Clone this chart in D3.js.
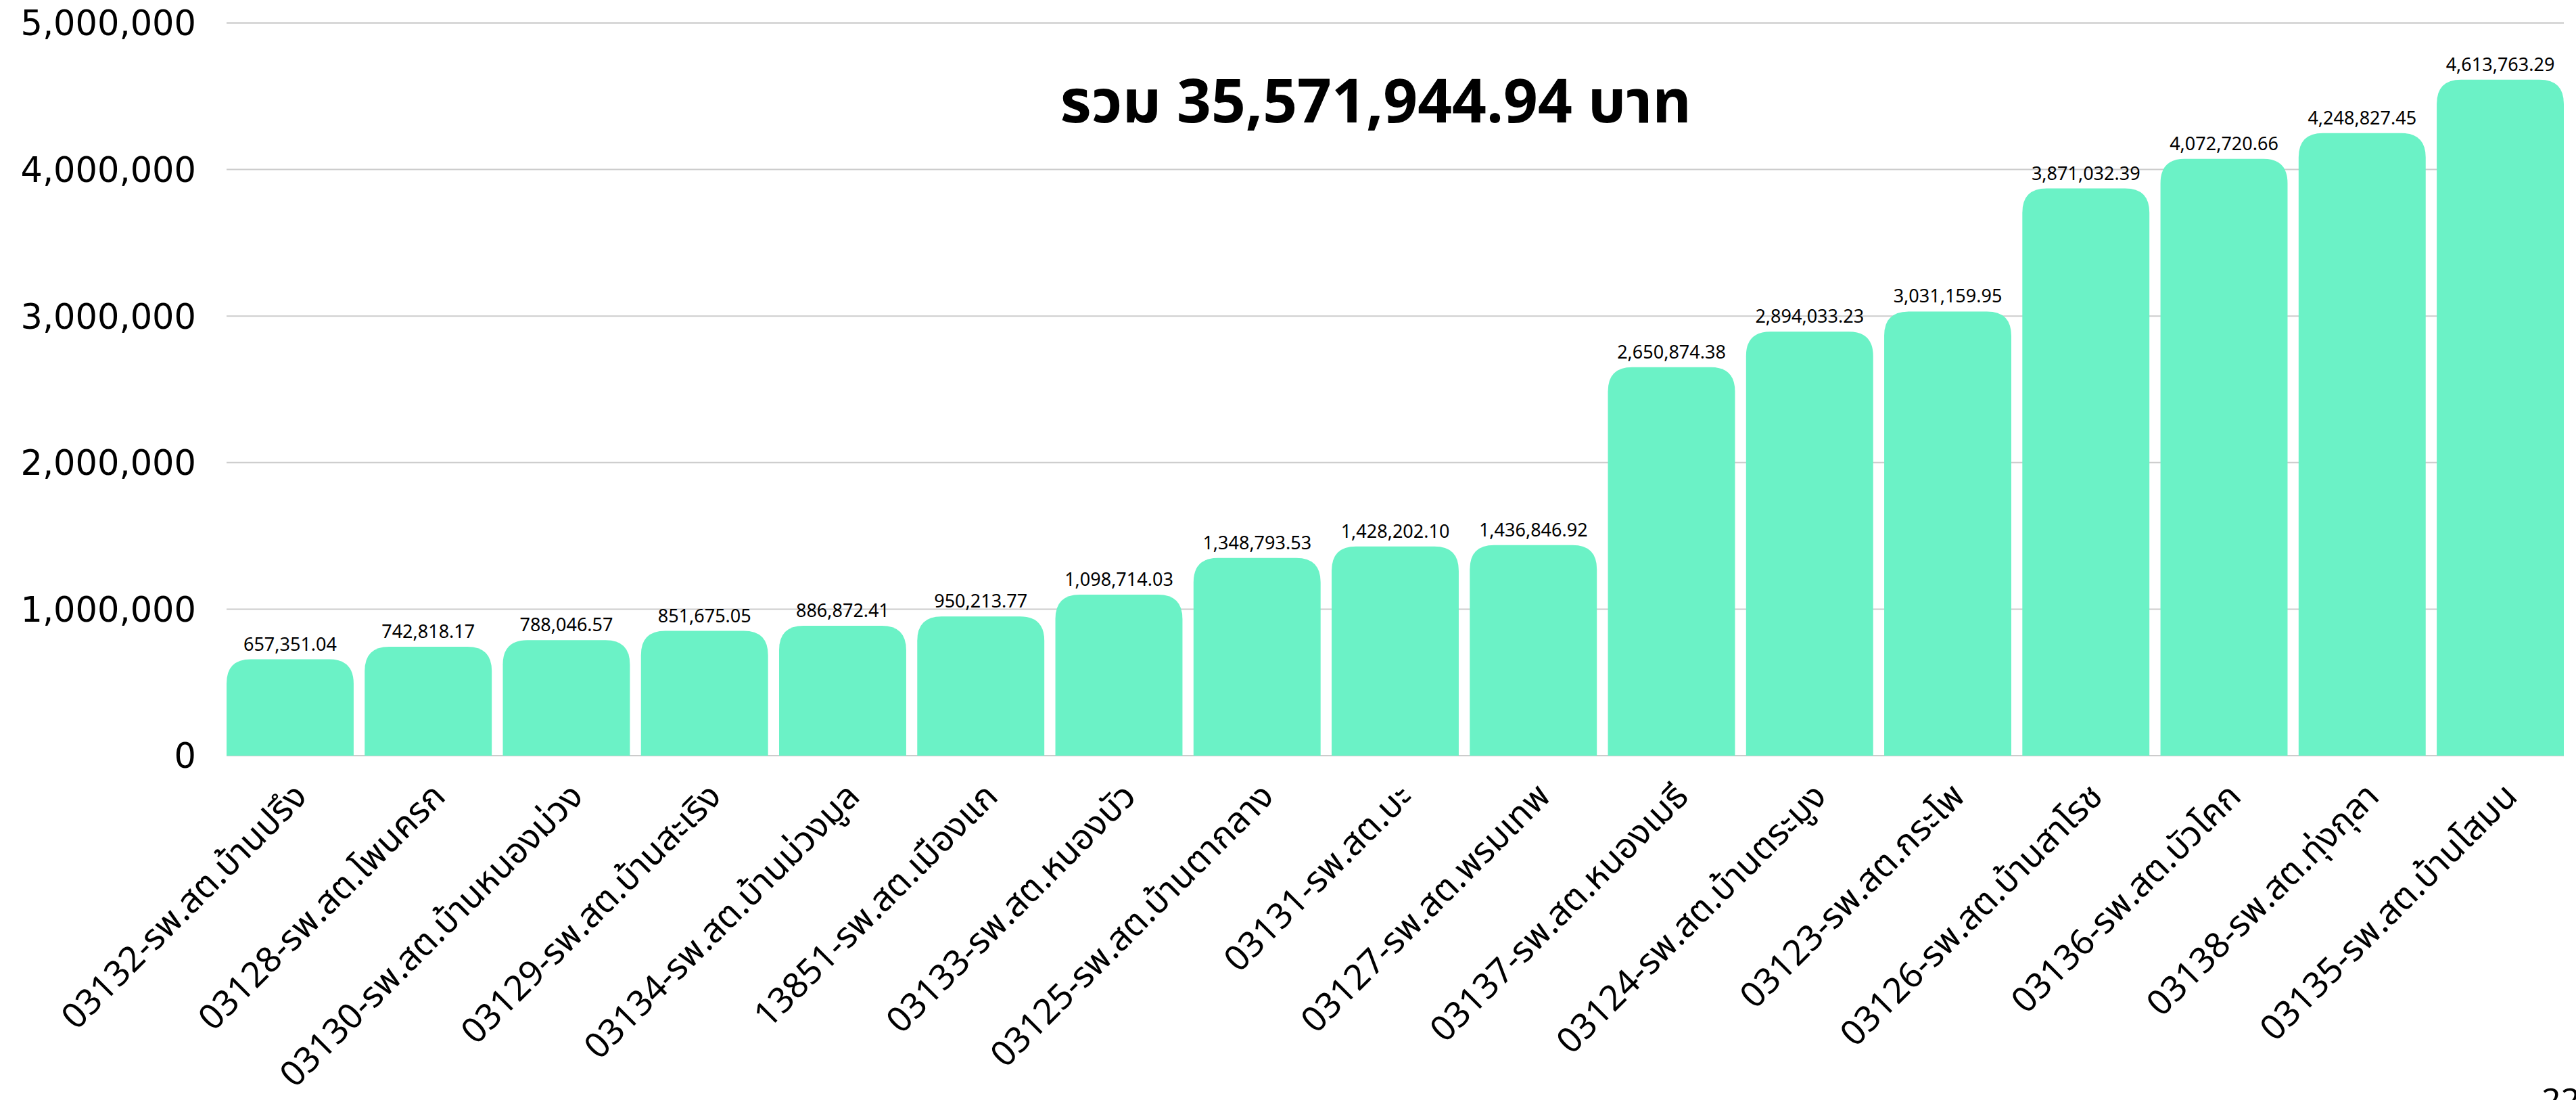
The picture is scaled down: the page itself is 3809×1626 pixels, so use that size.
<!DOCTYPE html>
<html>
<head>
<meta charset="utf-8">
<script src="https://cdn.jsdelivr.net/npm/d3@7"></script>
<style>
  html, body { margin: 0; padding: 0; background: #ffffff; }
  svg { display: block; }
</style>
</head>
<body>
<svg id="chart" width="3809" height="1626"></svg>
<script>
const categories = [
  "03132-รพ.สต.บ้านปรึง",
  "03128-รพ.สต.โพนครก",
  "03130-รพ.สต.บ้านหนองม่วง",
  "03129-รพ.สต.บ้านสะเริง",
  "03134-รพ.สต.บ้านม่วงมูล",
  "13851-รพ.สต.เมืองแก",
  "03133-รพ.สต.หนองบัว",
  "03125-รพ.สต.บ้านตากลาง",
  "03131-รพ.สต.บะ",
  "03127-รพ.สต.พรมเทพ",
  "03137-รพ.สต.หนองเมธี",
  "03124-รพ.สต.บ้านตระมูง",
  "03123-รพ.สต.กระโพ",
  "03126-รพ.สต.บ้านสาโรช",
  "03136-รพ.สต.บัวโคก",
  "03138-รพ.สต.ทุ่งกุลา",
  "03135-รพ.สต.บ้านโสมน"
];
const values = [
  657351.04, 742818.17, 788046.57, 851675.05, 886872.41, 950213.77,
  1098714.03, 1348793.53, 1428202.10, 1436846.92, 2650874.38,
  2894033.23, 3031159.95, 3871032.39, 4072720.66, 4248827.45, 4613763.29
];
const yTicks = [0, 1000000, 2000000, 3000000, 4000000, 5000000];
const titleText = "รวม 35,571,944.94 บาท";
const cornerText = "22";

(function () {
const data = categories.map((c, i) => ({ cat: c, val: values[i] }));

const svg = d3.select("#chart");
const plotLeft = 335, plotRight = 3791, plotTop = 34, plotBottom = 1117;

const x = d3.scaleBand().domain(categories).range([plotLeft, plotRight]).paddingInner(0.08).paddingOuter(0);
const y = d3.scaleLinear().domain([0, 5000000]).range([plotBottom, plotTop]);

const fmtInt = d3.format(",");
const fmtVal = d3.format(",.2f");

// gridlines
svg.append("g").selectAll("line").data(yTicks).join("line")
  .attr("x1", plotLeft).attr("x2", plotRight)
  .attr("y1", d => y(d)).attr("y2", d => y(d))
  .attr("stroke", "#cccccc").attr("stroke-width", 2);

// y-axis labels
svg.append("g").selectAll("text").data(yTicks).join("text")
  .attr("x", 290).attr("y", d => y(d))
  .attr("dy", "0.36em")
  .attr("text-anchor", "end")
  .attr("font-family", "'DejaVu Sans', sans-serif")
  .attr("font-size", 51)
  .attr("fill", "#000")
  .text(d => fmtInt(d));

// bars with rounded top corners
function topRounded(x0, y0, w, h, r) {
  r = Math.min(r, w / 2, h);
  return `M${x0},${y0 + h}V${y0 + r}Q${x0},${y0} ${x0 + r},${y0}H${x0 + w - r}Q${x0 + w},${y0} ${x0 + w},${y0 + r}V${y0 + h}Z`;
}
svg.append("g").selectAll("path").data(data).join("path")
  .attr("d", d => {
    const x0 = x(d.cat), w = x.bandwidth();
    const y0 = y(d.val), h = y(0) - y(d.val);
    return topRounded(x0, y0, w, h, 36);
  })
  .attr("fill", "#6bf2c6");

// value labels
svg.append("g").selectAll("text").data(data).join("text")
  .attr("x", d => x(d.cat) + x.bandwidth() / 2)
  .attr("y", d => y(d.val) - 13)
  .attr("text-anchor", "middle")
  .attr("font-family", "'Noto Sans', sans-serif")
  .attr("font-size", 27)
  .attr("fill", "#000")
  .text(d => fmtVal(d.val));

// x labels rotated
svg.append("g").selectAll("text").data(data).join("text")
  .attr("transform", d => `translate(${x(d.cat) + x.bandwidth() / 2 + 28},${1180}) rotate(-45)`)
  .attr("text-anchor", "end")
  .attr("font-family", "'Noto Sans', 'Noto Sans Thai', sans-serif")
  .attr("font-size", 52)
  .attr("fill", "#000")
  .text(d => d.cat);

// title
svg.append("text")
  .attr("x", 2034).attr("y", 181)
  .attr("text-anchor", "middle")
  .attr("font-family", "'Noto Sans', 'Noto Sans Thai', sans-serif")
  .attr("font-weight", "bold")
  .attr("font-size", 89)
  .attr("fill", "#000")
  .text(titleText);

// corner text (partially cut off, as in the reference)
svg.append("text")
  .attr("x", 3758).attr("y", 1644)
  .attr("font-family", "'Noto Sans', sans-serif")
  .attr("font-size", 50)
  .attr("fill", "#000")
  .text(cornerText);
})();
</script>
</body>
</html>
